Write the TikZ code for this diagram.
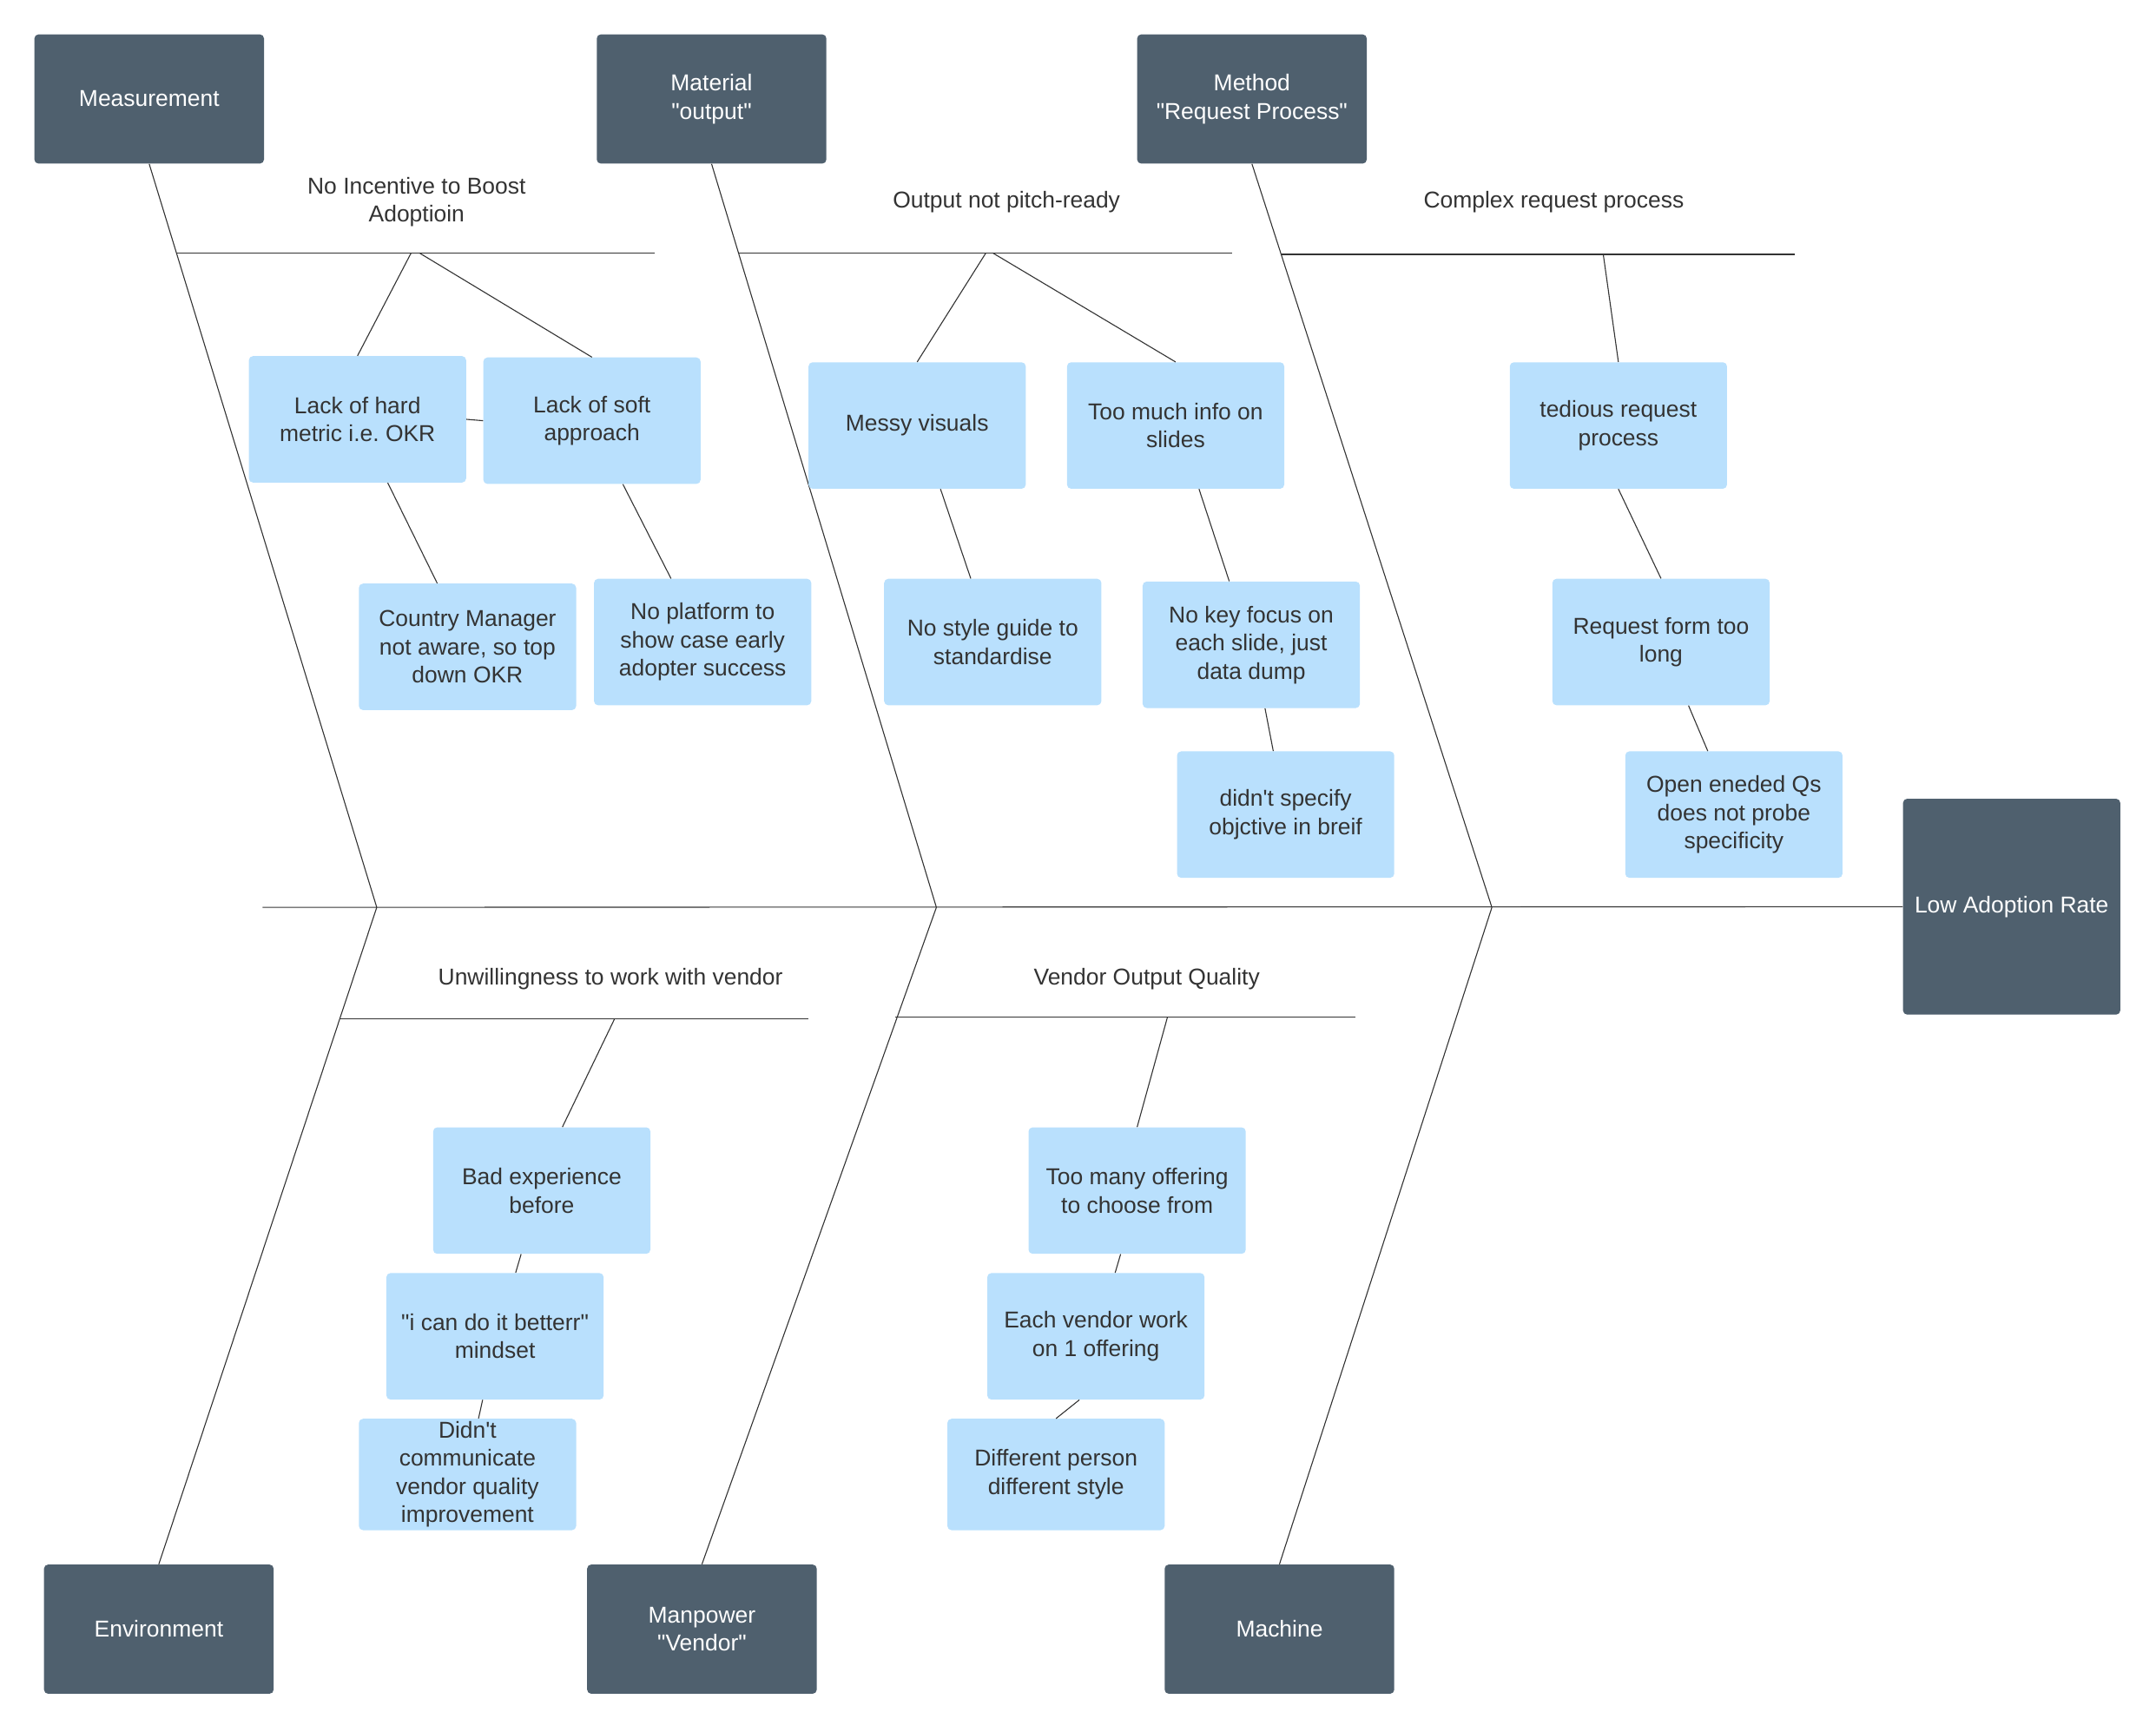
\documentclass[tikz,border=0pt]{standalone}
\usepackage{fontspec}
\setmainfont{Liberation Sans}[Ligatures=TeXOff]
\usepackage{tikz}
\definecolor{slate}{RGB}{79,96,110}
\definecolor{skyfill}{RGB}{185,224,253}
\definecolor{inkgray}{RGB}{51,51,51}

\begin{document}
\begin{tikzpicture}[x=1pt,y=-1pt,
    cat/.style={fill=slate,text=white,rounded corners=3pt,minimum width=167pt,minimum height=94pt,
      align=center,inner sep=0pt,font=\fontsize{16.7}{20.5}\selectfont},
    cause/.style={fill=skyfill,text=inkgray,rounded corners=3pt,minimum width=158pt,minimum height=92pt,
      align=center,inner sep=0pt,font=\fontsize{16.7}{20.5}\selectfont},
    lbl/.style={text=inkgray,align=center,font=\fontsize{16.7}{20.5}\selectfont},
    bone/.style={draw=inkgray,line width=0.7pt}]
    \useasboundingbox (0,0) rectangle (1568,1259.2);

    \node[cat] (meas) at (108.5,72) {Measurement};
    \node[cat] (matl) at (517.5,72) {Material\\"output"};
    \node[cat] (meth) at (910.5,72) {Method\\"Request Process"};
    \node[cat] (envr) at (115.5,1185) {Environment};
    \node[cat] (manp) at (510.5,1185) {Manpower\\"Vendor"};
    \node[cat] (mach) at (930.5,1185) {Machine};
    \node[cat,minimum width=158pt,minimum height=157pt] (effect) at (1463,659.5) {Low Adoption Rate};

    \coordinate (spine) at (191,660);
    \coordinate (h1) at (274,660);
    \coordinate (h2) at (681,660);
    \coordinate (h3) at (1085,660);

    \draw[bone] (spine) -- (effect.west);
    \draw[bone] (meas.south) -- (h1);
    \draw[bone] (matl.south) -- (h2);
    \draw[bone] (meth.south) -- (h3);
    \draw[bone] (envr.north) -- (h1);
    \draw[bone] (manp.north) -- (h2);
    \draw[bone] (mach.north) -- (h3);

    \coordinate (inc0) at (128,184);
    \coordinate (inc1) at (476,184);
    \coordinate (inca) at (299,184);
    \coordinate (incb) at (305,184);
    \coordinate (out0) at (537,184);
    \coordinate (out1) at (896,184);
    \coordinate (outa) at (717,184);
    \coordinate (outb) at (722,184);
    \coordinate (cpx0) at (932,185);
    \coordinate (cpx1) at (1305,185);
    \coordinate (cpxa) at (1166,185);
    \coordinate (unw0) at (247,741);
    \coordinate (unw1) at (588,741);
    \coordinate (unwa) at (447,741);
    \coordinate (voq0) at (651,740);
    \coordinate (voq1) at (986,740);
    \coordinate (voqa) at (849,740);

    \draw[bone] (inc0) -- (inc1);
    \draw[bone] (out0) -- (out1);
    \draw[bone] (cpx0) -- (cpx1);
    \draw[bone] (unw0) -- (unw1);
    \draw[bone] (voq0) -- (voq1);

    \node[lbl] (inclbl) at (303,147) {No Incentive to Boost\\Adoptioin};
    \node[lbl] (outlbl) at (732,147) {Output not pitch-ready};
    \node[lbl] (cpxlbl) at (1130,147) {Complex request process};
    \node[lbl] (unwlbl) at (444,712) {Unwillingness to work with vendor};
    \node[lbl] (voqlbl) at (834,712) {Vendor Output Quality};

    \node[cause] (hard) at (260,305) {Lack of hard\\metric i.e.\ OKR};
    \node[cause] (soft) at (430.5,306) {Lack of soft\\approach};
    \node[cause] (ctry) at (340,470.5) {Country Manager\\not aware, so top\\down OKR};
    \node[cause] (plat) at (511,467) {No platform to\\show case early\\adopter success};
    \node[cause] (messy) at (667,309.5) {Messy visuals};
    \node[cause] (much) at (855,309.5) {Too much info on\\slides};
    \node[cause] (style) at (722,467) {No style guide to\\standardise};
    \node[cause] (focus) at (910,469) {No key focus on\\each slide, just\\data dump};
    \node[cause] (brief) at (935,592.5) {didn't specify\\objctive in breif};
    \node[cause] (tedious) at (1177,309.5) {tedious request\\process};
    \node[cause] (form) at (1208,467) {Request form too\\long};
    \node[cause] (openq) at (1261,592.5) {Open eneded Qs\\does not probe\\specificity};
    \node[cause] (bad) at (394,866) {Bad experience\\before};
    \node[cause] (better) at (360,972) {"i can do it betterr"\\mindset};
    \node[cause,minimum height=81pt] (comm) at (340,1072.5) {Didn't\\communicate\\vendor quality\\improvement};
    \node[cause] (offer) at (827,866) {Too many offering\\to choose from};
    \node[cause] (eachv) at (797,972) {Each vendor work\\on 1 offering};
    \node[cause,minimum height=81pt] (diffp) at (768,1072.5) {Different person\\different style};

    \draw[bone] (inca) -- (hard.north);
    \draw[bone] (incb) -- (soft.north);
    \draw[bone] (hard.east) -- (soft.west);
    \draw[bone] ([xshift=22pt]hard.south) -- ([xshift=-22pt]ctry.north);
    \draw[bone] ([xshift=22.5pt]soft.south) -- ([xshift=-23pt]plat.north);
    \draw[bone] (outa) -- (messy.north);
    \draw[bone] (outb) -- (much.north);
    \draw[bone] ([xshift=17pt]messy.south) -- ([xshift=-16pt]style.north);
    \draw[bone] ([xshift=17pt]much.south) -- ([xshift=-16pt]focus.north);
    \draw[bone] ([xshift=10pt]focus.south) -- ([xshift=-9pt]brief.north);
    \draw[bone] (cpxa) -- (tedious.north);
    \draw[bone] (tedious.south) -- (form.north);
    \draw[bone] ([xshift=20pt]form.south) -- ([xshift=-19pt]openq.north);
    \draw[bone] (unwa) -- ([xshift=15pt]bad.north);
    \draw[bone] ([xshift=-15pt]bad.south) -- ([xshift=15pt]better.north);
    \draw[bone] ([xshift=-9pt]better.south) -- ([xshift=8pt]comm.north);
    \draw[bone] (voqa) -- (offer.north);
    \draw[bone] ([xshift=-12pt]offer.south) -- ([xshift=14pt]eachv.north);
    \draw[bone] ([xshift=-12pt]eachv.south) -- (diffp.north);
\end{tikzpicture}
\end{document}
